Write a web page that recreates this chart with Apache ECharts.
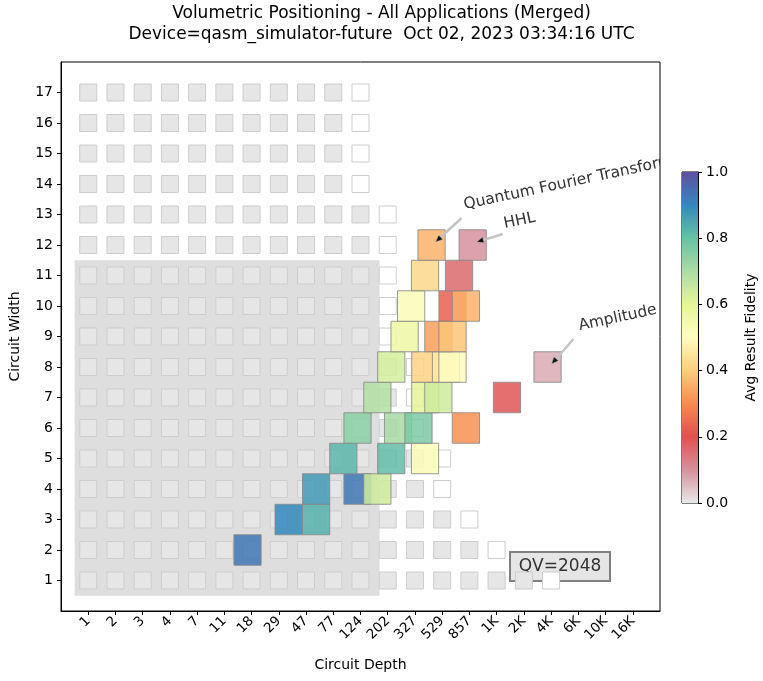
<!DOCTYPE html>
<html>
<head>
<meta charset="utf-8">
<script src="https://cdn.jsdelivr.net/npm/echarts@6/dist/echarts.min.js"></script>
<style>
  html, body { margin: 0; padding: 0; background: #fff; }
  #chart { width: 763px; height: 681px; }
</style>
</head>
<body>
<div id="chart"></div>
<script>
// tick labels of the depth axis (log-ish positions, one per index)
const depthLabels = ['1', '2', '3', '4', '7', '11', '18', '29', '47', '77', '124', '202', '327', '529', '857', '1K', '2K', '4K', '6K', '10K', '16K'];
const widthTicks = [1, 2, 3, 4, 5, 6, 7, 8, 9, 10, 11, 12, 13, 14, 15, 16, 17];

// background grid: last gray depth index for each width (1..17), a white box follows
const lastGrayDepth = [16, 14, 13, 12, 12, 11, 11, 11, 10, 10, 10, 10, 10, 9, 9, 9, 9];

// quantum volume region
const qvDepthIndex = 10.2;
const qvWidth = 11;
const qvLabel = 'QV=2048';

// measured circuits: depth position (axis index), width, avg result fidelity
const cellDepth = [
  5.85,
  7.36, 8.37,
  8.37, 9.89, 10.62,
  9.37, 11.13, 12.37,
  9.89, 11.38, 12.13, 13.87,
  10.62, 12.38, 12.86, 15.38,
  11.13, 12.38, 13.14, 13.38, 16.87,
  11.62, 12.86, 13.38,
  11.86, 13.38, 13.87,
  12.37, 13.62,
  12.61, 14.12
];
const cellWidth = [
  2,
  3, 3,
  4, 4, 4,
  5, 5, 5,
  6, 6, 6, 6,
  7, 7, 7, 7,
  8, 8, 8, 8, 8,
  9, 9, 9,
  10, 10, 10,
  11, 11,
  12, 12
];
const cellFidelity = [
  0.93,
  0.90, 0.83,
  0.87, 0.93, 0.64,
  0.82, 0.81, 0.52,
  0.75, 0.71, 0.77, 0.31,
  0.69, 0.60, 0.64, 0.19,
  0.63, 0.41, 0.46, 0.50, 0.07,
  0.57, 0.33, 0.39,
  0.52, 0.23, 0.36,
  0.42, 0.16,
  0.36, 0.10
];

// application labels pointing at a cell
const appNames = ['Quantum Fourier Transform', 'HHL', 'Amplitude'];
const appDepth = [12.61, 14.12, 16.87];
const appWidth = [12, 12, 8];

// colormap, evenly spaced from 0 to 1
const fidelityColors = ['#e8e8e8', '#d6909c', '#e0504e', '#f78a50', '#fdcd7c', '#fefdbe',
  '#e6f598', '#abdda4', '#66c2a5', '#3288bd', '#5e4fa2'];

function fidelityColor(v) {
  return echarts.color.lerp(Math.max(0, Math.min(1, v)), fidelityColors);
}

const font = 'DejaVu Sans';

const bgData = [];
widthTicks.forEach((w, i) => {
  for (let d = 0; d <= lastGrayDepth[i]; d++) bgData.push([d, w, 0]);
  bgData.push([lastGrayDepth[i] + 1, w, 1]);
});

const cellData = cellDepth.map((d, i) => [d, cellWidth[i], cellFidelity[i]]);
const appData = appNames.map((n, i) => [appDepth[i], appWidth[i], i]);

// label placement in pixels relative to the target cell
const labelOffset = [[34, -32], [33, -13], [33, -33]];
const arrowFrom = [[30, -27], [30, -11], [26, -28]];
const arrowTip = [4, -3];

const chart = echarts.init(document.getElementById('chart'));

const option = {
  animation: false,
  title: {
    text: 'Volumetric Positioning - All Applications (Merged)\nDevice=qasm_simulator-future  Oct 02, 2023 03:34:16 UTC',
    left: 'center',
    top: -2,
    textStyle: { fontFamily: font, fontSize: 17, fontWeight: 'normal', color: '#000', lineHeight: 21 }
  },
  grid: [
    { left: 57, right: 103, top: 62, bottom: 70, show: true, borderColor: '#000', borderWidth: 1 },
    { left: 682, width: 16, top: 172, height: 331, show: true, borderColor: '#000', borderWidth: 1 }
  ],
  xAxis: [
    {
      type: 'value', gridIndex: 0, min: -1, max: 21,
      name: 'Circuit Depth', nameLocation: 'middle', nameGap: 47,
      nameTextStyle: { fontFamily: font, fontSize: 14, color: '#000' },
      axisLine: { show: true, onZero: false, lineStyle: { color: '#000' } },
      axisTick: { show: true, length: 4, lineStyle: { color: '#000' }, customValues: depthLabels.map((l, i) => i) },
      axisLabel: {
        customValues: depthLabels.map((l, i) => i),
        formatter: v => depthLabels[Math.round(v)],
        rotate: 45, fontFamily: font, fontSize: 13.5, color: '#000', margin: 8
      },
      splitLine: { show: false }
    },
    { type: 'value', gridIndex: 1, min: 0, max: 1, show: false }
  ],
  yAxis: [
    {
      type: 'value', gridIndex: 0, min: 0, max: 18,
      name: 'Circuit Width', nameLocation: 'middle', nameGap: 39,
      nameTextStyle: { fontFamily: font, fontSize: 14, color: '#000' },
      axisLine: { show: true, onZero: false, lineStyle: { color: '#000' } },
      axisTick: { show: true, length: 4, lineStyle: { color: '#000' }, customValues: widthTicks },
      axisLabel: { customValues: widthTicks, fontFamily: font, fontSize: 14, color: '#000', margin: 8 },
      splitLine: { show: false }
    },
    {
      type: 'value', gridIndex: 1, min: 0, max: 1, interval: 0.2, position: 'right',
      name: 'Avg Result Fidelity', nameLocation: 'middle', nameGap: 46,
      nameTextStyle: { fontFamily: font, fontSize: 14, color: '#000' },
      axisLine: { show: true, onZero: false, lineStyle: { color: '#000' } },
      axisTick: { show: true, length: 4, lineStyle: { color: '#000' } },
      axisLabel: { formatter: v => v.toFixed(1), fontFamily: font, fontSize: 14, color: '#000', margin: 8 },
      splitLine: { show: false }
    }
  ],
  series: [
    {
      // QV region
      type: 'custom', xAxisIndex: 0, yAxisIndex: 0, silent: true, z: 1,
      data: [[qvDepthIndex, qvWidth]],
      renderItem: (params, api) => {
        const p0 = api.coord([-0.5, api.value(1) + 0.5]);
        const p1 = api.coord([api.value(0) + 0.5, 0.5]);
        return { type: 'rect', shape: { x: p0[0], y: p0[1], width: p1[0] - p0[0], height: p1[1] - p0[1] },
          style: { fill: '#dedede' } };
      }
    },
    {
      // background boxes
      type: 'custom', xAxisIndex: 0, yAxisIndex: 0, silent: true, z: 2,
      data: bgData,
      renderItem: (params, api) => {
        const c = api.coord([api.value(0), api.value(1)]);
        const s = 17;
        return { type: 'rect', shape: { x: c[0] - s / 2, y: c[1] - s / 2, width: s, height: s },
          style: { fill: api.value(2) ? '#ffffff' : '#e6e6e6', stroke: '#cdcdcd', lineWidth: 1 } };
      }
    },
    {
      // circuit results
      type: 'custom', xAxisIndex: 0, yAxisIndex: 0, silent: true, z: 3,
      data: cellData,
      renderItem: (params, api) => {
        const p0 = api.coord([api.value(0) - 0.5, api.value(1) + 0.5]);
        const p1 = api.coord([api.value(0) + 0.5, api.value(1) - 0.5]);
        return { type: 'rect', shape: { x: p0[0], y: p0[1], width: p1[0] - p0[0], height: p1[1] - p0[1] },
          style: { fill: fidelityColor(api.value(2)), stroke: '#888888', lineWidth: 1, opacity: 0.85 } };
      }
    },
    {
      // application annotations
      type: 'custom', xAxisIndex: 0, yAxisIndex: 0, silent: true, z: 4, clip: true,
      data: appData,
      renderItem: (params, api) => {
        const i = api.value(2);
        const c = api.coord([api.value(0), api.value(1)]);
        const t = [c[0] + arrowTip[0], c[1] + arrowTip[1]];
        const s = [c[0] + arrowFrom[i][0], c[1] + arrowFrom[i][1]];
        const dx = t[0] - s[0], dy = t[1] - s[1];
        const len = Math.sqrt(dx * dx + dy * dy);
        const ux = dx / len, uy = dy / len;
        const h = 7, w = 3;
        const b = [t[0] - ux * h, t[1] - uy * h];
        return {
          type: 'group',
          children: [
            { type: 'line', shape: { x1: s[0], y1: s[1], x2: b[0], y2: b[1] },
              style: { stroke: '#c4c4c4', lineWidth: 2.5 } },
            { type: 'polygon', shape: { points: [t, [b[0] - uy * w, b[1] + ux * w], [b[0] + uy * w, b[1] - ux * w]] },
              style: { fill: '#111', stroke: '#c4c4c4', lineWidth: 0.5 } },
            { type: 'text', x: c[0] + labelOffset[i][0], y: c[1] + labelOffset[i][1], rotation: 12 * Math.PI / 180,
              style: { text: appNames[i], fill: '#333', font: '15.5px "DejaVu Sans"', align: 'left', verticalAlign: 'bottom' } }
          ]
        };
      }
    },
    {
      // colorbar
      type: 'custom', xAxisIndex: 1, yAxisIndex: 1, silent: true, z: 1,
      data: [[0, 0]],
      renderItem: (params, api) => {
        const p0 = api.coord([0, 1]);
        const p1 = api.coord([1, 0]);
        const stops = fidelityColors.map((col, k) => ({ offset: k / (fidelityColors.length - 1), color: col }));
        return { type: 'rect', shape: { x: p0[0], y: p0[1], width: p1[0] - p0[0], height: p1[1] - p0[1] },
          style: { fill: new echarts.graphic.LinearGradient(0, 1, 0, 0, stops) } };
      }
    }
  ],
  graphic: [
    {
      type: 'group', left: 509, top: 551, z: 10,
      children: [
        { type: 'rect', shape: { x: 0, y: 0, width: 100, height: 29 },
          style: { fill: '#e5e5e5', stroke: '#808080', lineWidth: 2 } },
        { type: 'text', x: 50, y: 15,
          style: { text: qvLabel, fill: '#333', font: '17px "DejaVu Sans"', align: 'center', verticalAlign: 'middle' } }
      ]
    }
  ]
};

chart.setOption(option);
</script>
</body>
</html>
